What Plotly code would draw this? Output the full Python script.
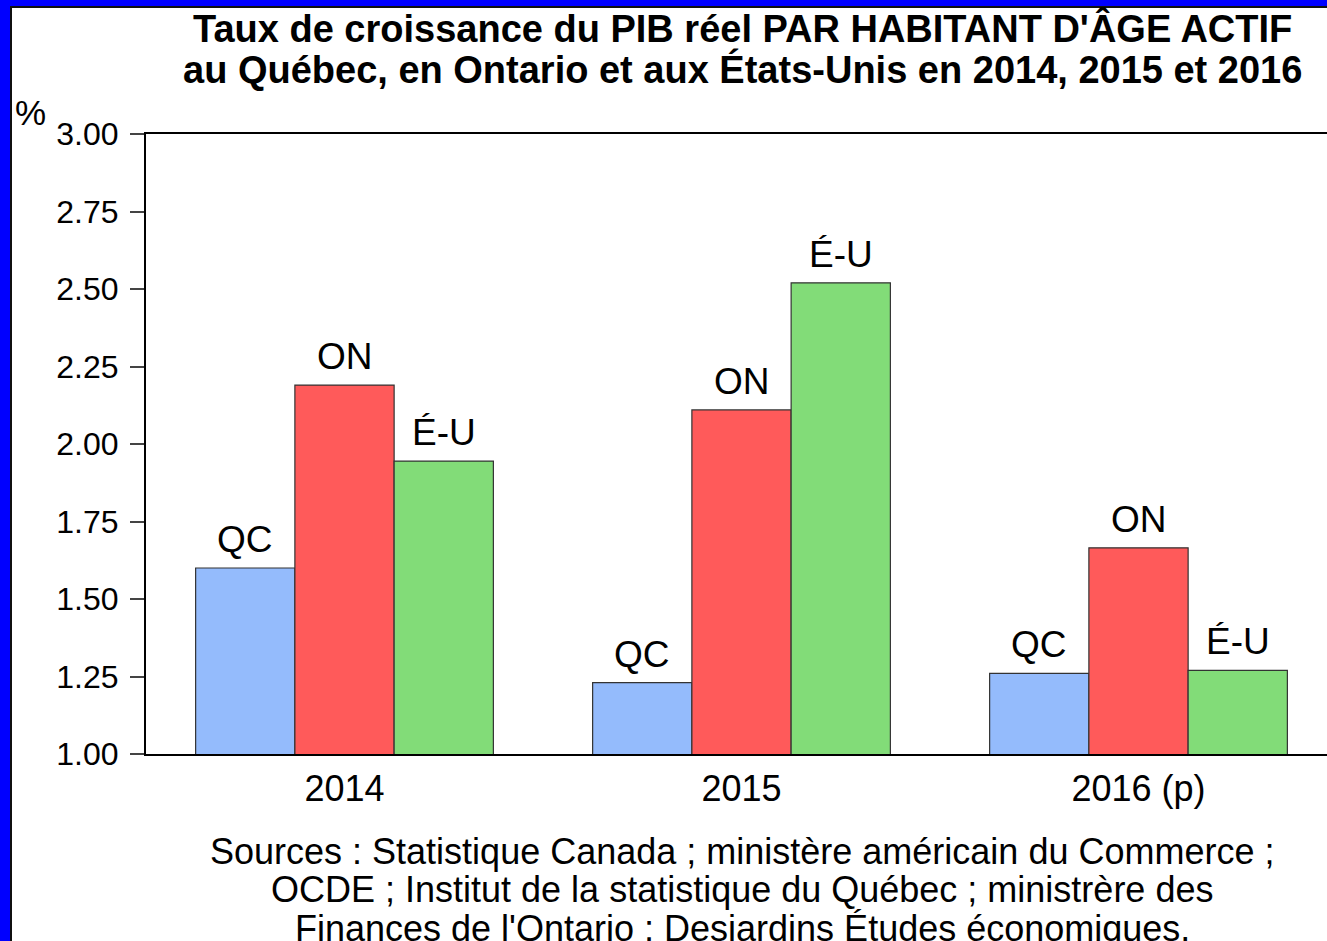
import plotly.graph_objects as go

categories = ["2014", "2015", "2016 (p)"]
series_names = ["QC", "ON", "É-U"]
qc_values = [1.60, 1.23, 1.26]
on_values = [2.19, 2.11, 1.665]
eu_values = [1.945, 2.52, 1.27]
ytick_values = [1.00, 1.25, 1.50, 1.75, 2.00, 2.25, 2.50, 2.75, 3.00]
title_lines = [
    "Taux de croissance du PIB réel PAR HABITANT D'ÂGE ACTIF",
    "au Québec, en Ontario et aux États-Unis en 2014, 2015 et 2016",
]
source_lines = [
    "Sources : Statistique Canada ; ministère américain du Commerce ;",
    "OCDE ; Institut de la statistique du Québec ; ministrère des",
    "Finances de l'Ontario ; Desjardins Études économiques.",
]

colors = ["#94BBFC", "#FF5A5A", "#82DC78"]
all_values = [qc_values, on_values, eu_values]

W, H = 1327, 941
ML, MR, MT, MB = 146, 0, 134, 187
plot_w = W - ML - MR
plot_h = H - MT - MB
cat_px = 397.0
x_hi = -0.5 + plot_w / cat_px

FONT = "Liberation Sans, Arial, sans-serif"

fig = go.Figure()
for name, vals, col in zip(series_names, all_values, colors):
    fig.add_trace(go.Bar(
        x=list(range(len(categories))), y=vals, name=name,
        marker=dict(color=col, line=dict(color="#333333", width=1.2)),
        showlegend=False, hoverinfo="skip",
    ))

offsets = [-1, 0, 1]
bar_px = cat_px * 0.25
annotations = []
for name, vals, off in zip(series_names, all_values, offsets):
    for i, v in enumerate(vals):
        annotations.append(dict(
            x=i, y=v, xref="x", yref="y", text=name, showarrow=False,
            xshift=off * bar_px, yanchor="bottom", yshift=6,
            font=dict(family=FONT, size=37, color="black"),
        ))

def px_x(p):
    return (p - ML) / plot_w

def px_y(p):
    return (H - MB - p) / plot_h

annotations.append(dict(
    x=px_x(30), y=px_y(112), xref="paper", yref="paper", text="%",
    showarrow=False, xanchor="center", yanchor="middle",
    font=dict(family=FONT, size=35, color="black"),
))
for line, yc in zip(title_lines, [28, 70]):
    annotations.append(dict(
        x=px_x(742), y=px_y(yc), xref="paper", yref="paper", text=line,
        showarrow=False, xanchor="center", yanchor="middle",
        font=dict(family=FONT, size=38, color="black", weight="bold"),
    ))
for line, yc in zip(source_lines, [851, 890, 928]):
    annotations.append(dict(
        x=px_x(742), y=px_y(yc), xref="paper", yref="paper", text=line,
        showarrow=False, xanchor="center", yanchor="middle",
        font=dict(family=FONT, size=36, color="black"),
    ))

shapes = [
    dict(type="rect", xref="paper", yref="paper",
         x0=px_x(0), x1=px_x(W), y0=px_y(6), y1=px_y(0),
         fillcolor="#0000FF", line=dict(width=0), layer="above"),
    dict(type="rect", xref="paper", yref="paper",
         x0=px_x(0), x1=px_x(10), y0=px_y(H), y1=px_y(0),
         fillcolor="#0000FF", line=dict(width=0), layer="above"),
    dict(type="rect", xref="paper", yref="paper",
         x0=px_x(10), x1=px_x(12), y0=px_y(H), y1=px_y(6),
         fillcolor="#101010", line=dict(width=0), layer="above"),
    dict(type="rect", xref="paper", yref="paper",
         x0=px_x(10), x1=px_x(W), y0=px_y(8), y1=px_y(6),
         fillcolor="#101010", line=dict(width=0), layer="above"),
]

fig.update_layout(
    width=W, height=H,
    margin=dict(l=ML, r=MR, t=MT, b=MB, pad=0),
    paper_bgcolor="white", plot_bgcolor="white",
    barmode="group", bargap=0.25, bargroupgap=0,
    annotations=annotations, shapes=shapes,
    font=dict(family=FONT, color="black"),
)
fig.update_xaxes(
    range=[-0.5, x_hi], showline=True, linecolor="black", linewidth=2,
    mirror=True, ticks="", showgrid=False, zeroline=False,
    tickmode="array", tickvals=list(range(len(categories))), ticktext=categories,
    tickfont=dict(family=FONT, size=36, color="black"),
    ticklabelstandoff=2,
)
fig.update_yaxes(
    range=[1.0, 3.0], tickvals=ytick_values, tickformat=".2f",
    showline=True, linecolor="black", linewidth=2,
    ticks="outside", ticklen=14, tickcolor="#444444", tickwidth=1.5,
    showgrid=False, zeroline=False,
    tickfont=dict(family=FONT, size=32, color="black"),
    ticklabelstandoff=5,
)
fig.write_html(
    "out.html",
    config={"displayModeBar": False},
    post_script="document.body.style.margin='0';document.body.style.overflow='hidden';window.scrollTo(0,0);",
)
